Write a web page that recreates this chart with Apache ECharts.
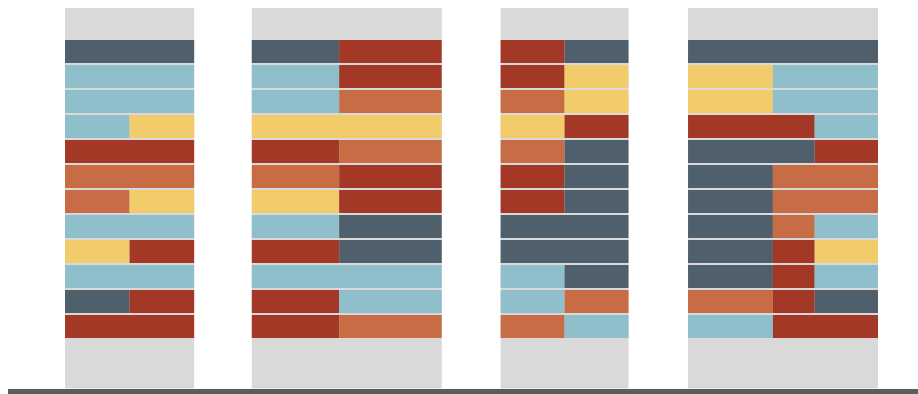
<!DOCTYPE html>
<html>
<head>
<meta charset="utf-8">
<script src="https://cdn.jsdelivr.net/npm/echarts@6/dist/echarts.min.js"></script>
<style>
  html, body { margin: 0; background: #fff; }
  #chart { width: 918px; height: 394px; }
</style>
</head>
<body>
<div id="chart"></div>
<script>
// column layout in abstract width units
const columnStarts = [0, 2.95, 6.88, 9.84]
const columnSplits = [
  [0, 1.02, 2.04],
  [0, 1.38, 3],
  [0, 1.01, 2.02],
  [0, 1.34, 2, 3],
]

// one letter per cell, rows top to bottom
// S slate, B blue, Y yellow, R red, O orange
const column1Rows = ['SS', 'BB', 'BB', 'BY', 'RR', 'OO', 'OY', 'BB', 'YR', 'BB', 'SR', 'RR']
const column2Rows = ['SR', 'BR', 'BO', 'YY', 'RO', 'OR', 'YR', 'BS', 'RS', 'BB', 'RB', 'RO']
const column3Rows = ['RS', 'RY', 'OY', 'YR', 'OS', 'RS', 'RS', 'SS', 'SS', 'BS', 'BO', 'OB']
const column4Rows = ['SSS', 'YBB', 'YBB', 'RRB', 'SSR', 'SOO', 'SOO', 'SOB', 'SRY', 'SRB', 'ORS', 'BRR']

const palette = {
  S: '#4f5f6b',
  B: '#8ebfcb',
  Y: '#f2cb6b',
  R: '#a33827',
  O: '#c76c44',
}

const allRows = [column1Rows, column2Rows, column3Rows, column4Rows]

// merge neighbouring cells of the same colour into one segment
const segments = []
allRows.forEach((rows, c) => {
  const splits = columnSplits[c]
  rows.forEach((row, r) => {
    let start = 0
    for (let i = 1; i <= row.length; i++) {
      if (i === row.length || row[i] !== row[start]) {
        segments.push([
          columnStarts[c] + splits[start],
          columnStarts[c] + splits[i],
          r,
          row[start],
        ])
        start = i
      }
    }
  })
})

const backgrounds = columnStarts.map((s, c) => [s, s + columnSplits[c][columnSplits[c].length - 1]])

const myChart = echarts.init(document.getElementById('chart'))

myChart.setOption({
  animation: false,
  grid: [
    { left: 65, right: 40, top: 8, bottom: 5.5 },
    { left: 8, right: 0, bottom: 2.5, height: 0 },
  ],
  xAxis: [
    { type: 'value', min: 0, max: 12.84, show: false },
    {
      type: 'value',
      gridIndex: 1,
      min: 0,
      max: 1,
      axisLine: { show: true, lineStyle: { color: '#5c5c5c', width: 5, cap: 'butt' } },
      axisTick: { show: false },
      axisLabel: { show: false },
      splitLine: { show: false },
    },
  ],
  yAxis: [
    { type: 'value', min: -1.28, max: 13.94, inverse: true, show: false },
    { type: 'value', gridIndex: 1, show: false },
  ],
  series: [
    {
      type: 'custom',
      data: backgrounds,
      encode: { x: [0, 1] },
      renderItem: (params, api) => {
        const x0 = api.coord([api.value(0), 0])[0]
        const x1 = api.coord([api.value(1), 0])[0]
        const cs = params.coordSys
        return {
          type: 'rect',
          shape: { x: x0, y: cs.y, width: x1 - x0, height: cs.height },
          style: { fill: '#d9d9d9' },
        }
      },
      z: 1,
    },
    {
      type: 'custom',
      data: segments.map((d) => [d[0], d[1], d[2], d[3]]),
      encode: { x: [0, 1], y: 2 },
      dimensions: ['x0', 'x1', 'row', { name: 'color', type: 'ordinal' }],
      renderItem: (params, api) => {
        const item = segments[params.dataIndex]
        const p0 = api.coord([item[0], item[2]])
        const p1 = api.coord([item[1], item[2] + 1])
        return {
          type: 'rect',
          shape: { x: p0[0], y: p0[1], width: p1[0] - p0[0], height: p1[1] - p0[1] - 2 },
          style: { fill: palette[item[3]] },
        }
      },
      z: 2,
    },
  ],
})
</script>
</body>
</html>
